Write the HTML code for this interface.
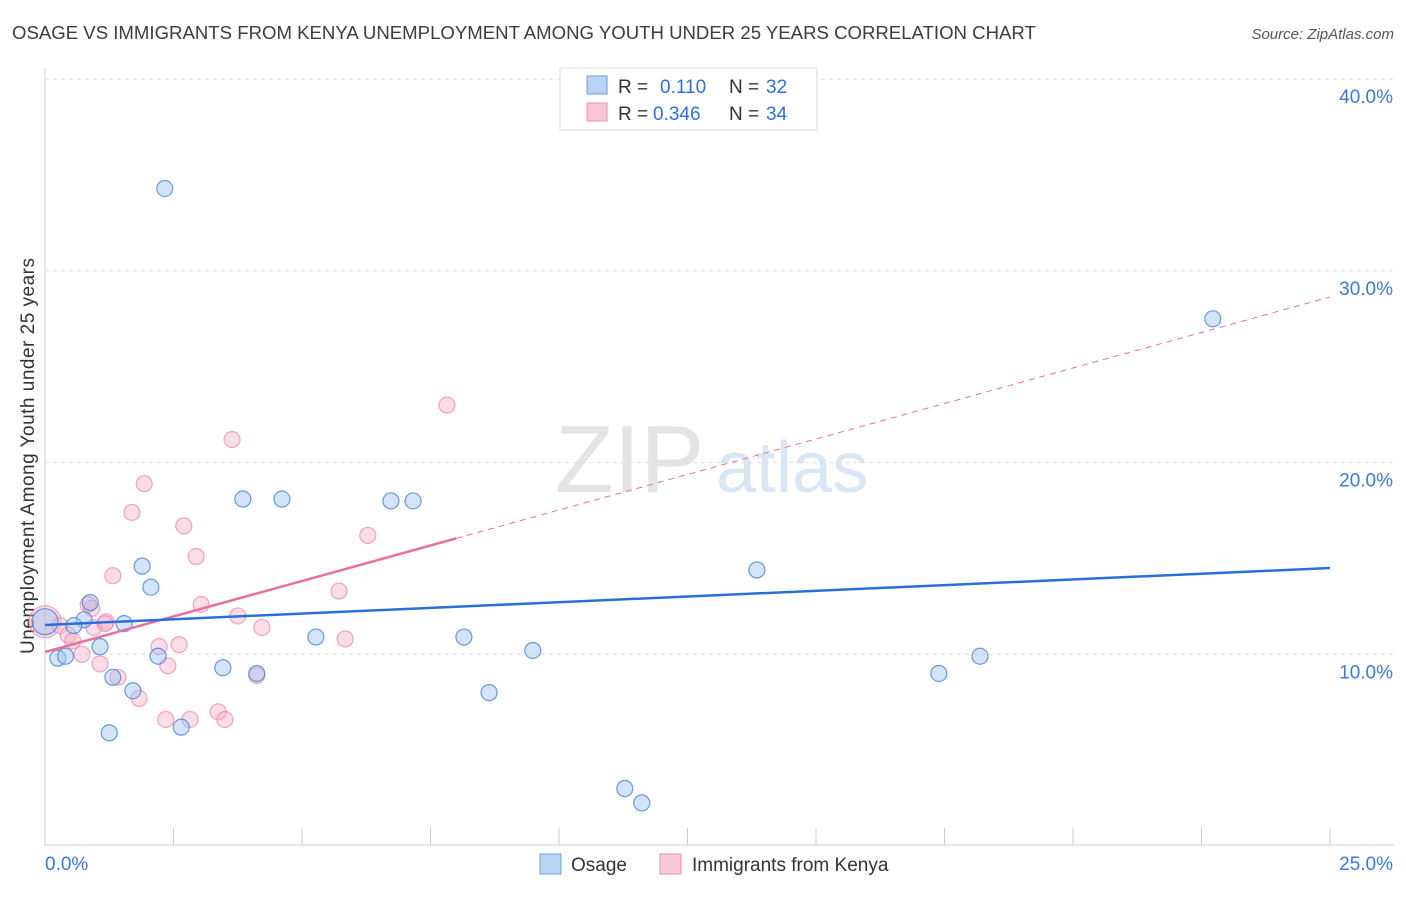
<!DOCTYPE html>
<html><head><meta charset="utf-8"><style>
body{margin:0;background:#fff;font-family:"Liberation Sans",sans-serif}
svg text{font-family:"Liberation Sans",sans-serif}
</style></head><body>
<svg id="c" width="1406" height="892" xmlns="http://www.w3.org/2000/svg">
<text x="12" y="39" font-size="18.6" fill="#3c3c3c">OSAGE VS IMMIGRANTS FROM KENYA UNEMPLOYMENT AMONG YOUTH UNDER 25 YEARS CORRELATION CHART</text>
<text x="1394" y="39" font-size="15" fill="#555" text-anchor="end" font-style="italic">Source: ZipAtlas.com</text>
<text x="34" y="456" font-size="19" fill="#333" text-anchor="middle" transform="rotate(-90 34 456)" textLength="396">Unemployment Among Youth under 25 years</text>
<text x="555" y="492" font-size="96" fill="#e4e4e4" font-family="Liberation Serif">ZIP</text>
<text x="716" y="492" font-size="72" fill="#dbe6f5">atlas</text>
<g id="grid"></g><g id="pts"></g><g id="lines"></g>
<g>
<rect x="560" y="68" width="257" height="62" fill="#fff" stroke="#ddd"/>
<rect x="587" y="76" width="20" height="18" fill="#b9d3f5" stroke="#6a9ee0"/>
<rect x="587" y="103" width="20" height="18" fill="#f9c7d5" stroke="#ec90ad"/>
<text x="618" y="93" font-size="19" fill="#333">R =</text><text x="660" y="93" font-size="19" fill="#2f6fd8">0.110</text>
<text x="729" y="93" font-size="19" fill="#333">N =</text><text x="766" y="93" font-size="19" fill="#2f6fd8">32</text>
<text x="618" y="120" font-size="19" fill="#333">R =</text><text x="653" y="120" font-size="19" fill="#2f6fd8">0.346</text>
<text x="729" y="120" font-size="19" fill="#333">N =</text><text x="766" y="120" font-size="19" fill="#2f6fd8">34</text>
</g>
<g>
<rect x="540" y="854" width="21" height="20" fill="#b9d3f5" stroke="#6a9ee0"/><text x="571" y="871" font-size="19" fill="#333">Osage</text>
<rect x="660" y="854" width="21" height="20" fill="#f9c7d5" stroke="#ec90ad"/><text x="692" y="871" font-size="19" fill="#333">Immigrants from Kenya</text>
</g>
</svg>
<script>
const xTicks=[0,25];
const yTicks=[10,20,30,40];
const osageX=[2.33,0,0.25,0.4,0.76,0.88,0.56,1.07,1.32,1.25,1.71,1.89,2.06,2.2,1.54,2.65,3.46,3.85,4.12,4.61,5.27,6.73,7.16,8.15,8.64,9.49,11.28,11.61,13.85,17.39,18.19,22.72];
const osageY=[34.3,11.7,9.8,9.9,11.8,12.7,11.5,10.4,8.8,5.9,8.1,14.6,13.5,9.9,11.6,6.2,9.3,18.1,9.0,18.1,10.9,18.0,18.0,10.9,8.0,10.2,3.0,2.25,14.4,9.0,9.9,27.5];
const kenyaX=[0,0.29,0.45,0.54,0.84,0.95,1.07,1.19,1.32,1.42,1.69,1.83,1.93,2.22,2.39,2.35,2.70,2.61,2.94,3.04,2.82,3.37,3.50,3.64,3.75,4.12,4.22,5.72,5.84,6.28,7.82,0.91,0.72,1.17];
const kenyaY=[11.7,11.5,11.0,10.7,12.6,11.4,9.5,11.7,14.1,8.8,17.4,7.7,18.9,10.4,9.4,6.6,16.7,10.5,15.1,12.6,6.6,7.0,6.6,21.2,12.0,8.9,11.4,13.3,10.8,16.2,23.0,12.4,10.0,11.6];
const trendX=[0,25];
const osageTrend=[11.53,14.5];
const kenyaTrend=[10.12,28.64];
const kenyaSolidEnd=8.0;
const X=v=>45+v/25*1285, Y=v=>846-v*19.17;
const NS="http://www.w3.org/2000/svg";
function mk(t,a,p){const e=document.createElementNS(NS,t);for(const k in a)e.setAttribute(k,a[k]);p.appendChild(e);return e;}
const g=document.getElementById('grid');
const ax=mk('line',{x1:45,y1:68,x2:45,y2:846,stroke:'#ccc'},g);


const bx=mk('line',{x1:45,y1:845,x2:1394,y2:845,stroke:'#ccc'},g);


for(let i=0;i<=10;i++){const t=mk('line',{x1:X(i*2.5),y1:828,x2:X(i*2.5),y2:845,stroke:'#ccc'},g);

}
yTicks.forEach(v=>{const l=mk('line',{x1:45,y1:Y(v),x2:1394,y2:Y(v),stroke:'#ddd','stroke-dasharray':'4,4'},g);


const t=mk('text',{x:1393,y:Y(v)+24,'font-size':19,fill:'#3b78d8','text-anchor':'end'},g);t.textContent=v.toFixed(1)+'%';

});
xTicks.forEach((v,i)=>{const t=mk('text',{x:i?1393:45,y:870,'font-size':19,fill:'#3b78d8','text-anchor':i?'end':'start'},g);t.textContent=v.toFixed(1)+'%';

});
const p=document.getElementById('pts');
kenyaX.forEach((v,i)=>{const c=mk('circle',{cx:X(v),cy:Y(kenyaY[i]),r:i==0?16:8,fill:'rgba(246,170,195,0.4)',stroke:'rgba(236,130,165,0.7)','stroke-width':1.2},p);

});
osageX.forEach((v,i)=>{const c=mk('circle',{cx:X(v),cy:Y(osageY[i]),r:i==1?13:8,fill:'rgba(160,195,240,0.45)',stroke:'rgba(70,130,215,0.8)','stroke-width':1.2},p);

});
const L=document.getElementById('lines');
const kAt=x=>kenyaTrend[0]+(kenyaTrend[1]-kenyaTrend[0])*(x-trendX[0])/(trendX[1]-trendX[0]);
const kd=mk('line',{x1:X(kenyaSolidEnd),y1:Y(kAt(kenyaSolidEnd)),x2:X(trendX[1]),y2:Y(kenyaTrend[1]),stroke:'#e8719a','stroke-width':1,'stroke-dasharray':'6,5'},L);


const ks=mk('line',{x1:X(trendX[0]),y1:Y(kenyaTrend[0]),x2:X(kenyaSolidEnd),y2:Y(kAt(kenyaSolidEnd)),stroke:'#e8719a','stroke-width':2.5},L);


const ob=mk('line',{x1:X(trendX[0]),y1:Y(osageTrend[0]),x2:X(trendX[1]),y2:Y(osageTrend[1]),stroke:'#2a6fd6','stroke-width':2.5},L);


</script>
</body></html>
